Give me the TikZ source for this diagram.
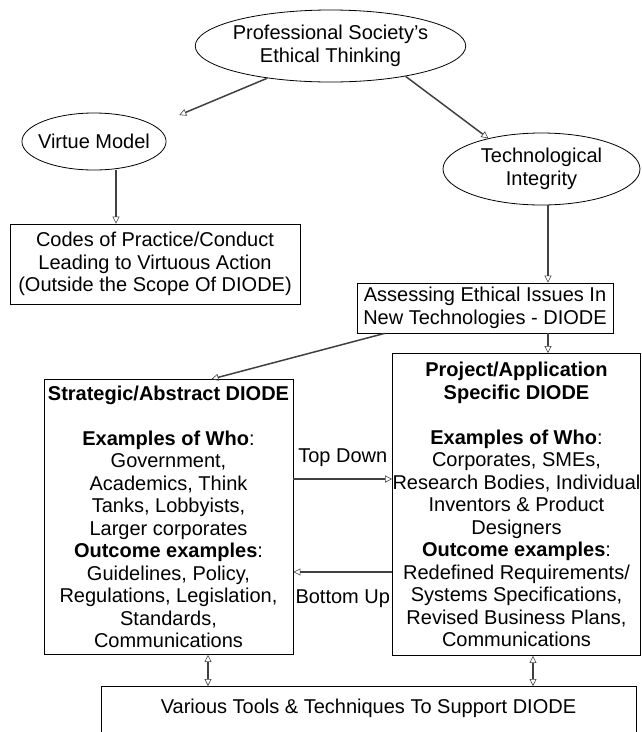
\documentclass[tikz,border=0pt]{standalone}
\usepackage{fontspec}
\setmainfont{Liberation Sans}
\usetikzlibrary{shapes.geometric,arrows.meta}

\begin{document}
\begin{tikzpicture}[x=1pt,y=-1pt,
  every node/.style={font=\fontsize{20}{22.5}\selectfont,align=center,inner sep=0pt},
  oval/.style={ellipse,draw,line width=0.8pt},
  box/.style={rectangle,draw,line width=0.8pt},
  arr/.style={draw=black!75,line width=1.5pt,-{Triangle[open,length=7pt,width=7pt,line width=0.6pt]}},
  dbl/.style={draw=black!75,line width=1.5pt,{Triangle[open,length=7pt,width=7pt,line width=0.6pt]}-{Triangle[open,length=7pt,width=7pt,line width=0.6pt]}}]
\clip (0,0) rectangle (641,732);

\node[oval,inner xsep=-2pt,minimum height=72pt] (soc) at (330.5,46) {Professional Society's\\Ethical Thinking};
\node[oval,inner xsep=-5pt,minimum height=57pt] (virtue) at (94,141.5) {Virtue Model};
\node[oval,minimum width=197pt,minimum height=72pt] (tech) at (541.5,169) {Technological\\Integrity};

\node[box,minimum width=290pt,minimum height=80pt] (codes) at (155,264) {Codes of Practice/Conduct\\Leading to Virtuous Action\\(Outside the Scope Of DIODE)};
\node[box,minimum width=256pt,minimum height=50pt] (assess) at (485,308) {Assessing Ethical Issues In\\New Technologies - DIODE};

\node[box,minimum width=249pt,minimum height=275pt] (strat) at (168.5,517) {\textbf{Strategic/Abstract DIODE}\\[22.5pt]
  \textbf{Examples of Who}:\\Government,\\Academics, Think\\Tanks, Lobbyists,\\Larger corporates\\
  \textbf{Outcome examples}:\\Guidelines, Policy,\\Regulations, Legislation,\\Standards,\\Communications};
\node[box,minimum width=247pt,minimum height=302pt] (proj) at (516.5,504.5) {\textbf{Project/Application}\\\textbf{Specific DIODE}\\[22.5pt]
  \textbf{Examples of Who}:\\Corporates, SMEs,\\Research Bodies, Individual\\Inventors \& Product\\Designers\\
  \textbf{Outcome examples}:\\Redefined Requirements/\\Systems Specifications,\\Revised Business Plans,\\Communications};

\node[box,anchor=north,minimum width=535pt,inner ysep=13pt,text depth=30pt] (tools) at (368.5,686) {Various Tools \& Techniques To Support DIODE};

\coordinate (colA) at (548,0);
\coordinate (colL) at (208,0);
\coordinate (colR) at (533,0);
\coordinate (td) at (0,479);
\coordinate (bu) at (0,572);

\draw[arr] (soc.207) -- ([xshift=34pt,yshift=6pt]virtue.north east);
\draw[arr] (soc.-22) -- (tech.150);
\draw[arr] ([xshift=22pt]virtue.south) -- ([xshift=22pt]virtue.south |- codes.north);
\draw[arr] (tech.south -| colA) -- (assess.north -| colA);
\draw[arr] ([xshift=28pt]assess.south west) -- ([xshift=43pt]strat.north);
\draw[arr] (assess.south -| colA) -- (proj.north -| colA);
\draw[arr] (strat.east |- td) -- node[above=12pt] (tdl) {Top Down} (proj.west |- td);
\draw[arr] (proj.west |- bu) -- node[below=17pt] (bul) {Bottom Up} (strat.east |- bu);
\draw[dbl] (strat.south -| colL) -- (tools.north -| colL);
\draw[dbl] (proj.south -| colR) -- (tools.north -| colR);

\end{tikzpicture}
\end{document}
